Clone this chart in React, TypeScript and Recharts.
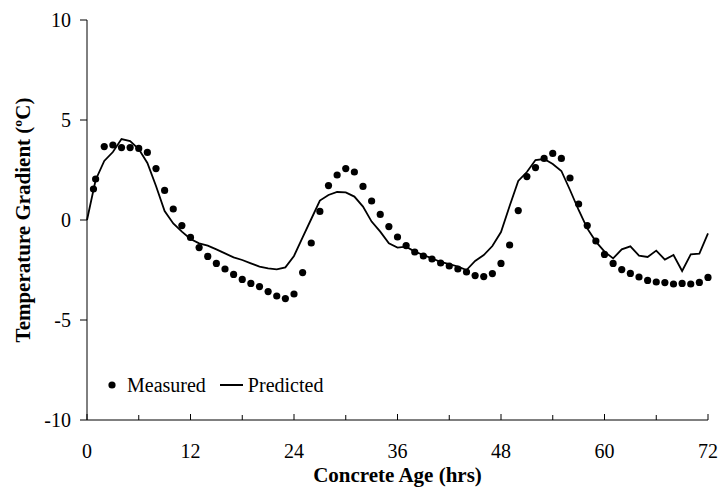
import React from 'react';
import { ComposedChart, Line, Scatter, XAxis, YAxis } from 'recharts';

const predHours = [0,1,2,3,4,5,6,7,8,9,10,11,12,13,14,15,16,17,18,19,20,21,22,23,24,25,26,27,28,29,30,31,32,33,34,35,36,37,38,39,40,41,42,43,44,45,46,47,48,49,50,51,52,53,54,55,56,57,58,59,60,61,62,63,64,65,66,67,68,69,70,71,72];
const predicted = [0,2.0,2.95,3.4,4.05,3.95,3.55,2.85,1.7,0.45,-0.17,-0.58,-0.95,-1.17,-1.28,-1.47,-1.67,-1.87,-2.0,-2.17,-2.33,-2.42,-2.47,-2.37,-1.8,-0.87,0.05,0.97,1.25,1.4,1.38,1.17,0.67,-0.08,-0.58,-1.17,-1.38,-1.33,-1.58,-1.75,-1.92,-2.1,-2.2,-2.33,-2.5,-2.05,-1.75,-1.3,-0.6,0.7,1.95,2.4,3.0,3.05,2.8,2.45,1.5,0.5,-0.42,-1.08,-1.58,-1.92,-1.47,-1.32,-1.78,-1.85,-1.53,-1.98,-1.75,-2.55,-1.72,-1.68,-0.67];

const measHours = [0.75,1,2,3,4,5,6,7,8,9,10,11,12,13,14,15,16,17,18,19,20,21,22,23,24,25,26,27,28,29,30,31,32,33,34,35,36,37,38,39,40,41,42,43,44,45,46,47,48,49,50,51,52,53,54,55,56,57,58,59,60,61,62,63,64,65,66,67,68,69,70,71,72];
const measured = [1.55,2.05,3.67,3.75,3.62,3.62,3.58,3.38,2.57,1.48,0.55,-0.28,-0.87,-1.38,-1.82,-2.17,-2.45,-2.72,-2.97,-3.17,-3.33,-3.58,-3.8,-3.93,-3.7,-2.63,-1.15,0.43,1.72,2.25,2.57,2.4,1.68,0.95,0.28,-0.33,-0.85,-1.28,-1.6,-1.8,-1.95,-2.15,-2.3,-2.45,-2.6,-2.78,-2.83,-2.68,-2.17,-1.25,0.47,2.17,2.62,3.08,3.33,3.08,2.1,0.8,-0.28,-1.05,-1.72,-2.17,-2.48,-2.67,-2.85,-3.02,-3.1,-3.13,-3.2,-3.17,-3.2,-3.12,-2.87];

const xTicks = [0,6,12,18,24,30,36,42,48,54,60,66,72];
const yTicks = [-10,-5,0,5,10];

const predData = predHours.map((t, i) => ({ t, predicted: predicted[i] }));
const measData = measHours.map((t, i) => ({ t, measured: measured[i] }));

const FONT = '"Liberation Serif", "Times New Roman", serif';

const Dot = (props: any) => {
  const { cx, cy } = props;
  return <circle cx={cx} cy={cy} r={3.6} fill="#000" />;
};

const XTick = (props: any) => {
  const { x, y, payload } = props;
  const v = payload.value as number;
  const major = v % 12 === 0;
  return (
    <g>
      <line x1={x} x2={x} y1={y} y2={y - (major ? 6 : 5)} stroke="#000" strokeWidth={1} />
      {major && (
        <text x={x} y={y + 38} textAnchor="middle" fill="#000" fontSize={20} fontFamily={FONT}>{v}</text>
      )}
    </g>
  );
};

const YTick = (props: any) => {
  const { x, y, payload } = props;
  return (
    <text x={x} y={y + 7} textAnchor="end" fill="#000" fontSize={20} fontFamily={FONT}>{payload.value}</text>
  );
};

const LegendBox = () => (
  <div style={{ position: 'absolute', left: 107, top: 373, display: 'flex', alignItems: 'center', height: 24, fontFamily: FONT, fontSize: 20, color: '#000', whiteSpace: 'nowrap' }}>
    <svg width={10} height={10} style={{ marginRight: 10 }}><circle cx={5} cy={5} r={3.6} fill="#000" /></svg>
    <span>Measured</span>
    <svg width={23} height={10} style={{ marginLeft: 14, marginRight: 5 }}><line x1={0} x2={23} y1={5} y2={5} stroke="#000" strokeWidth={2} /></svg>
    <span>Predicted</span>
  </div>
);

export default function App() {
  return (
    <div style={{ position: 'absolute', left: 0, top: 0, width: 720, height: 487, background: '#fff' }}>
      <ComposedChart width={720} height={487} margin={{ top: 20, right: 12, bottom: 7, left: 27 }}>
        <XAxis
          dataKey="t"
          type="number"
          domain={[0, 72]}
          ticks={xTicks}
          interval={0}
          tickSize={0}
          tickMargin={0}
          tickLine={false}
          height={60}
          stroke="#000"
          tick={<XTick />}
          label={{ value: 'Concrete Age (hrs)', position: 'insideBottom', offset: -2, fill: '#000', fontSize: 21, fontWeight: 'bold', fontFamily: FONT }}
        />
        <YAxis
          type="number"
          domain={[-10, 10]}
          ticks={yTicks}
          interval={0}
          width={60}
          tickSize={7}
          tickMargin={9}
          stroke="#000"
          tick={<YTick />}
          label={{ value: 'Temperature Gradient (ºC)', angle: -90, position: 'left', offset: 4, fill: '#000', fontSize: 21, fontWeight: 'bold', fontFamily: FONT, style: { textAnchor: 'middle' } }}
        />
        <Line data={predData} dataKey="predicted" type="linear" stroke="#000" strokeWidth={1.8} dot={false} activeDot={false} isAnimationActive={false} />
        <Scatter data={measData} dataKey="measured" fill="#000" shape={<Dot />} isAnimationActive={false} />
      </ComposedChart>
      <LegendBox />
    </div>
  );
}
